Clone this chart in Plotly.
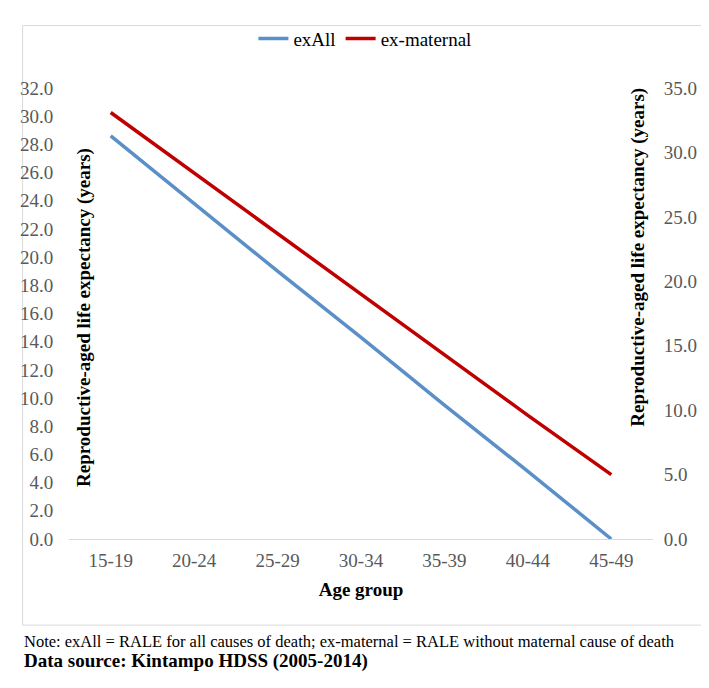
import plotly.graph_objects as go

age_groups = ["15-19", "20-24", "25-29", "30-34", "35-39", "40-44", "45-49"]
ex_all = [28.6, 23.8, 19.0, 14.3, 9.5, 4.8, 0.0]
ex_maternal = [33.1, 28.4, 23.7, 19.0, 14.3, 9.6, 5.0]

left_ticks = [i * 2.0 for i in range(17)]
right_ticks = [i * 5.0 for i in range(8)]

# page body has an 8px default margin, so figure coords = window coords - 8
OFF = 8
W, H = 709 - OFF, 688 - OFF
PL, PR, PT, PB = 56, 654, 73, 539  # plot area in window coords
L, R, T, B = PL - OFF, W - (PR - OFF), PT - OFF, H - (PB - OFF)
PW = W - L - R
PH = H - T - B


def px(x):
    return (x - OFF - L) / PW


def py(y):
    return (H - B - (y - OFF)) / PH


FONT = "Liberation Serif"
TICK_COLOR = "#595959"

fig = go.Figure()
fig.add_trace(go.Scatter(
    x=age_groups, y=ex_all, name="exAll", mode="lines",
    line=dict(color="#5b8fc7", width=3.5), yaxis="y"))
fig.add_trace(go.Scatter(
    x=age_groups, y=ex_maternal, name="ex-maternal", mode="lines",
    line=dict(color="#c00000", width=3.5), yaxis="y2"))

fig.update_layout(
    width=W, height=H,
    margin=dict(l=L, r=R, t=T, b=B, pad=0),
    paper_bgcolor="white", plot_bgcolor="white",
    font=dict(family=FONT, size=19, color="black"),
    showlegend=True,
    legend=dict(orientation="h", x=px(359), xanchor="center",
                y=py(22), yanchor="middle", font=dict(size=19, color="black"),
                bgcolor="rgba(0,0,0,0)", itemwidth=30, tracegroupgap=0),
    xaxis=dict(type="category", range=[-0.5, 6.5], showgrid=False,
               zeroline=False, showline=True, linecolor="#d9d9d9", linewidth=1.3,
               ticks="outside", ticklen=4, tickcolor="rgba(0,0,0,0)",
               tickfont=dict(size=19, color=TICK_COLOR),
               title=dict(text="<b>Age group</b>", font=dict(size=19, color="black"),
                          standoff=12)),
    yaxis=dict(range=[0, 32], tickvals=left_ticks, tickformat=".1f",
               showgrid=False, zeroline=False, showline=False,
               ticks="outside", ticklen=11, tickcolor="rgba(0,0,0,0)",
               tickfont=dict(size=19, color=TICK_COLOR)),
    yaxis2=dict(range=[0, 35], tickvals=right_ticks, tickformat=".1f",
                overlaying="y", side="right", showgrid=False, zeroline=False,
                showline=False, ticks="outside", ticklen=6,
                tickcolor="rgba(0,0,0,0)",
                tickfont=dict(size=19, color=TICK_COLOR)),
)

fig.add_annotation(text="<b>Reproductive-aged life expectancy (years)</b>",
                   xref="paper", yref="paper", x=px(72), y=py(310),
                   textangle=-90, showarrow=False, xanchor="center", yanchor="middle",
                   font=dict(size=19, color="black"))
fig.add_annotation(text="<b>Reproductive-aged life expectancy (years)</b>",
                   xref="paper", yref="paper", x=px(639), y=py(248),
                   textangle=-90, showarrow=False, xanchor="center", yanchor="middle",
                   font=dict(size=19, color="black"))
fig.add_annotation(text="Note: exAll = RALE for all causes of death; ex-maternal = RALE without maternal cause of death",
                   xref="paper", yref="paper", x=px(8), y=py(645),
                   showarrow=False, xanchor="left", yanchor="middle",
                   font=dict(size=16.5, color="black"))
fig.add_annotation(text="<b>Data source: Kintampo HDSS (2005-2014)</b>",
                   xref="paper", yref="paper", x=px(8), y=py(665),
                   showarrow=False, xanchor="left", yanchor="middle",
                   font=dict(size=19, color="black"))

fig.add_shape(type="rect", xref="paper", yref="paper",
              x0=px(8.5), x1=px(707.5), y0=py(628), y1=py(8.5),
              line=dict(color="#d9d9d9", width=1), fillcolor="rgba(0,0,0,0)",
              layer="below")

fig.write_html("out.html")
